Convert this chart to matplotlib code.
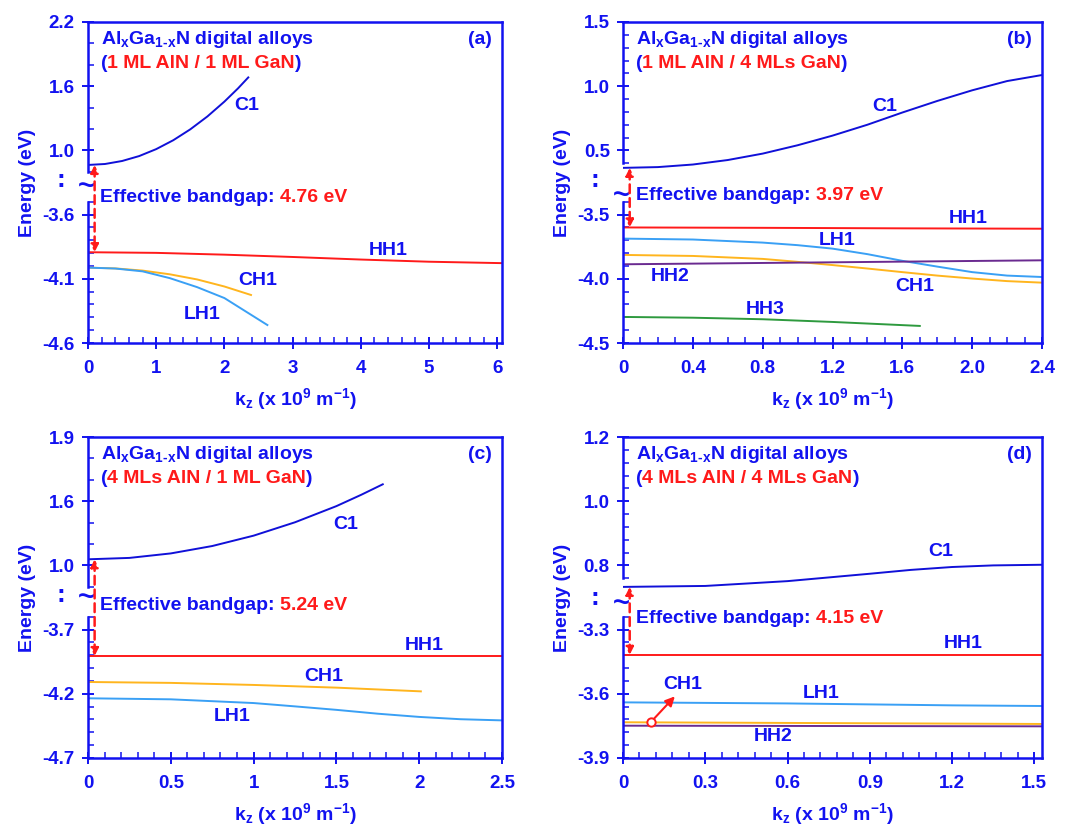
import numpy as np
import matplotlib
matplotlib.use('Agg')
import matplotlib.pyplot as plt
from matplotlib.ticker import MultipleLocator

BLUE = '#1212F0'
RED = '#FF1A1A'
C_C1 = '#1010D8'
C_HH1 = '#FF1A1A'
C_LH1 = '#3AA0F5'
C_CH1 = '#FFB51E'
C_HH2 = '#6A2A90'
C_HH3 = '#2E9A3E'

plt.rcParams['font.family'] = ['Liberation Sans', 'DejaVu Sans']
plt.rcParams['font.weight'] = 'bold'
plt.rcParams['axes.labelweight'] = 'bold'
plt.rcParams['mathtext.fontset'] = 'custom'
plt.rcParams['mathtext.rm'] = 'Liberation Sans:bold'
plt.rcParams['mathtext.bf'] = 'Liberation Sans:bold'
plt.rcParams['mathtext.it'] = 'Liberation Sans:bold'
plt.rcParams['mathtext.default'] = 'bf'

# ---- panel (a): 1 ML AlN / 1 ML GaN
a_k_c1 = [0, 0.25, 0.5, 0.75, 1.0, 1.25, 1.5, 1.75, 2.0, 2.2, 2.35]
a_e_c1 = [0.864, 0.873, 0.901, 0.947, 1.012, 1.095, 1.197, 1.317, 1.456, 1.580, 1.682]
a_k_hh1 = [0, 1, 2, 3, 4, 5, 6.07]
a_e_hh1 = [-3.893, -3.898, -3.912, -3.930, -3.950, -3.967, -3.978]
a_k_ch1 = [0, 0.4, 0.8, 1.2, 1.6, 2.0, 2.39]
a_e_ch1 = [-4.013, -4.019, -4.036, -4.065, -4.105, -4.160, -4.226]
a_k_lh1 = [0, 0.4, 0.8, 1.2, 1.6, 2.0, 2.3, 2.63]
a_e_lh1 = [-4.013, -4.020, -4.042, -4.095, -4.165, -4.250, -4.350, -4.460]

# ---- panel (b): 1 ML AlN / 4 MLs GaN
b_k_c1 = [0, 0.2, 0.4, 0.6, 0.8, 1.0, 1.2, 1.4, 1.6, 1.8, 2.0, 2.2, 2.4]
b_e_c1 = [0.364, 0.370, 0.390, 0.425, 0.475, 0.540, 0.615, 0.700, 0.795, 0.885, 0.968, 1.040, 1.087]
b_k_hh1 = [0, 0.8, 1.6, 2.4]
b_e_hh1 = [-3.600, -3.603, -3.607, -3.610]
b_k_lh1 = [0, 0.4, 0.8, 1.0, 1.2, 1.4, 1.6, 1.8, 2.0, 2.2, 2.4]
b_e_lh1 = [-3.687, -3.694, -3.718, -3.738, -3.765, -3.808, -3.860, -3.905, -3.948, -3.975, -3.986]
b_k_ch1 = [0, 0.4, 0.8, 1.0, 1.2, 1.4, 1.6, 1.8, 2.0, 2.2, 2.4]
b_e_ch1 = [-3.814, -3.822, -3.845, -3.868, -3.893, -3.920, -3.948, -3.975, -3.998, -4.018, -4.030]
b_k_hh2 = [0, 2.4]
b_e_hh2 = [-3.887, -3.856]
b_k_hh3 = [0, 0.4, 0.8, 1.2, 1.7]
b_e_hh3 = [-4.297, -4.303, -4.315, -4.336, -4.367]

# ---- panel (c): 4 MLs AlN / 1 ML GaN
c_k_c1 = [0, 0.25, 0.5, 0.75, 1.0, 1.25, 1.5, 1.65, 1.78]
c_e_c1 = [1.057, 1.070, 1.112, 1.181, 1.278, 1.403, 1.554, 1.630, 1.679]
c_k_hh1 = [0, 2.5]
c_e_hh1 = [-3.906, -3.906]
c_k_ch1 = [0, 0.5, 1.0, 1.5, 2.01]
c_e_ch1 = [-4.108, -4.115, -4.131, -4.152, -4.181]
c_k_lh1 = [0, 0.5, 1.0, 1.25, 1.5, 1.75, 2.0, 2.25, 2.5]
c_e_lh1 = [-4.235, -4.243, -4.272, -4.298, -4.325, -4.355, -4.380, -4.398, -4.407]

# ---- panel (d): 4 MLs AlN / 4 MLs GaN
d_k_c1 = [0, 0.3, 0.6, 0.9, 1.05, 1.2, 1.35, 1.528]
d_e_c1 = [0.733, 0.736, 0.751, 0.774, 0.786, 0.795, 0.800, 0.802]
d_k_hh1 = [0, 1.528]
d_e_hh1 = [-3.418, -3.418]
d_k_lh1 = [0, 0.6, 1.2, 1.528]
d_e_lh1 = [-3.640, -3.645, -3.654, -3.657]
d_k_ch1 = [0, 1.528]
d_e_ch1 = [-3.733, -3.741]
d_k_hh2 = [0, 1.528]
d_e_hh2 = [-3.749, -3.752]

# axis ticks (lower part / upper part of the broken energy axis)
a_low, a_up = [-4.6, -4.1, -3.6], [1.0, 1.6, 2.2]
b_low, b_up = [-4.5, -4.0, -3.5], [0.5, 1.0, 1.5]
c_low, c_up = [-4.7, -4.2, -3.7], [1.0, 1.6, 1.9]
d_low, d_up = [-3.9, -3.6, -3.3], [0.8, 1.0, 1.2]
a_xt = [0, 1, 2, 3, 4, 5, 6]
a_xl = ['0', '1', '2', '3', '4', '5', '6']
b_xt = [0, 0.4, 0.8, 1.2, 1.6, 2.0, 2.4]
b_xl = ['0', '0.4', '0.8', '1.2', '1.6', '2.0', '2.4']
c_xt = [0, 0.5, 1, 1.5, 2, 2.5]
c_xl = ['0', '0.5', '1', '1.5', '2', '2.5']
d_xt = [0, 0.3, 0.6, 0.9, 1.2, 1.5]
d_xl = ['0', '0.3', '0.6', '0.9', '1.2', '1.5']

gaps = ['4.76 eV', '3.97 eV', '5.24 eV', '4.15 eV']
structures = ['1 ML AlN / 1 ML GaN', '1 ML AlN / 4 MLs GaN',
              '4 MLs AlN / 1 ML GaN', '4 MLs AlN / 4 MLs GaN']
tags = ['(a)', '(b)', '(c)', '(d)']

FS = 14


def piecewise(x, xp, fp):
    x = np.asarray(x, dtype=float)
    y = np.interp(x, xp, fp)
    s0 = (fp[1] - fp[0]) / (xp[1] - xp[0])
    s1 = (fp[-1] - fp[-2]) / (xp[-1] - xp[-2])
    y = np.where(x < xp[0], fp[0] + (x - xp[0]) * s0, y)
    y = np.where(x > xp[-1], fp[-1] + (x - xp[-1]) * s1, y)
    return y


def broken_scale(low, up):
    """piecewise linear energy scale with a break between low and up"""
    dl = low[2] - low[1]
    du = up[1] - up[0]
    e = [low[0], low[1], low[2], low[2] + 0.45 * dl,
         up[0] - 0.45 * du, up[0], up[1], up[2]]
    u = [0, 1, 2, 2.45, 2.55, 3, 4, 5]
    return (lambda v: piecewise(v, e, u)), (lambda v: piecewise(v, u, e))


def draw_panel(ax, bands, labels, low, up, n_up, xmax, xt, xl, xminor,
               idx, y_gap, y_tilde, y_dots):
    fwd, inv = broken_scale(low, up)
    ax.set_yscale('function', functions=(fwd, inv))
    ax.set_ylim(low[0], up[2])
    ax.set_xlim(0, xmax)

    # bands
    for k, e, col in bands:
        ax.plot(k, e, color=col, lw=1.4)
    for txt, x, y in labels:
        ax.text(x, y, txt, color=BLUE, fontsize=FS, ha='center', va='center')

    # ticks
    ax.set_yticks(low + up)
    ax.set_yticklabels(['%.1f' % v for v in low + up])
    u_min = [i * 0.2 for i in range(1, 12) if i % 5]
    u_min += [3 - 1.0 / n_up] + [3 + i / n_up for i in range(1, 2 * n_up) if i % n_up]
    ax.set_yticks(inv(np.array(u_min)), minor=True)
    ax.set_xticks(xt)
    ax.set_xticklabels(xl)
    ax.xaxis.set_minor_locator(MultipleLocator(xminor))
    ax.tick_params(which='major', direction='inout', length=9, width=1.4,
                   colors=BLUE, labelsize=13.5, pad=5)
    ax.tick_params(axis='x', which='major', pad=8)
    ax.tick_params(which='minor', direction='in', length=4.5, width=1.1,
                   colors=BLUE)

    # spines, left one broken
    for s in ['top', 'right', 'bottom']:
        ax.spines[s].set_color(BLUE)
        ax.spines[s].set_linewidth(1.8)
    ax.spines['left'].set_visible(False)
    ytr = ax.get_yaxis_transform()
    ax.plot([0, 0], [low[0], float(inv(2.2))], transform=ytr, color=BLUE,
            lw=1.8, clip_on=False, solid_capstyle='projecting')
    ax.plot([0, 0], [float(inv(3 - 1.0 / n_up)), up[2]], transform=ytr,
            color=BLUE, lw=1.8, clip_on=False, solid_capstyle='projecting')
    ax.text(-0.004, y_tilde, '~', transform=ax.transAxes, color=BLUE,
            fontsize=21, ha='center', va='center')
    ax.text(-0.066, y_dots, ':', transform=ax.transAxes, color=BLUE,
            fontsize=19, ha='center', va='center')

    ax.set_xlabel(r'k$_{z}$ (x 10$^{9}$ m$^{-1}$)', color=BLUE, fontsize=FS,
                  labelpad=6)
    ax.set_ylabel('Energy (eV)', color=BLUE, fontsize=FS, labelpad=5)

    # titles
    ax.text(0.031, 0.946, r'Al$_{x}$Ga$_{1\text{-}x}$N digital alloys',
            transform=ax.transAxes, color=BLUE, fontsize=FS, va='center')
    t1 = ax.text(0.031, 0.872, '(', transform=ax.transAxes, color=BLUE,
                 fontsize=FS, va='center')
    t2 = ax.annotate(structures[idx], xy=(1, 0), xycoords=t1, color=RED,
                     fontsize=FS, va='bottom', ha='left')
    ax.annotate(')', xy=(1, 0), xycoords=t2, color=BLUE, fontsize=FS,
                va='bottom', ha='left')
    ax.text(0.976, 0.946, tags[idx], transform=ax.transAxes, color=BLUE,
            fontsize=FS, va='center', ha='right')

    # effective bandgap arrow
    c1_min = bands[0][1][0]
    hh1_max = bands[1][1][0]
    ax.annotate('', xy=(0.016, hh1_max), xytext=(0.016, c1_min), xycoords=ytr,
                arrowprops=dict(arrowstyle='<|-|>', ls=(0, (3.5, 2)), color=RED,
                                lw=1.8, shrinkA=0, shrinkB=0,
                                mutation_scale=11))
    g1 = ax.text(0.030, y_gap, 'Effective bandgap:', transform=ax.transAxes,
                 color=BLUE, fontsize=FS, va='center')
    ax.annotate(gaps[idx], xy=(1, 0), xycoords=g1, xytext=(4, 0),
                textcoords='offset points', color=RED, fontsize=FS,
                va='bottom', ha='left')


fig = plt.figure(figsize=(10.69, 8.26), dpi=100)
W, H = 1069.0, 826.0
ax_a = fig.add_axes([88 / W, 1 - 343 / H, 414 / W, 321 / H])
ax_b = fig.add_axes([623 / W, 1 - 343 / H, 419 / W, 321 / H])
ax_c = fig.add_axes([88 / W, 1 - 758 / H, 414 / W, 321 / H])
ax_d = fig.add_axes([623 / W, 1 - 758 / H, 419 / W, 321 / H])

draw_panel(ax_a,
           [(a_k_c1, a_e_c1, C_C1), (a_k_hh1, a_e_hh1, C_HH1),
            (a_k_ch1, a_e_ch1, C_CH1), (a_k_lh1, a_e_lh1, C_LH1)],
           [('C1', 2.33, 1.415), ('HH1', 4.40, -3.881), ('CH1', 2.49, -4.117),
            ('LH1', 1.67, -4.38)],
           a_low, a_up, 3, 6.07, a_xt, a_xl, 0.2, 0, 0.452, 0.489, 0.508)

draw_panel(ax_b,
           [(b_k_c1, b_e_c1, C_C1), (b_k_hh1, b_e_hh1, C_HH1),
            (b_k_lh1, b_e_lh1, C_LH1), (b_k_ch1, b_e_ch1, C_CH1),
            (b_k_hh2, b_e_hh2, C_HH2), (b_k_hh3, b_e_hh3, C_HH3)],
           [('C1', 1.50, 0.845), ('HH1', 1.98, -3.53), ('LH1', 1.224, -3.705),
            ('HH2', 0.268, -3.98), ('CH1', 1.673, -4.058), ('HH3', 0.813, -4.24)],
           b_low, b_up, 5, 2.4, b_xt, b_xl, 0.1, 1, 0.461, 0.461, 0.508)

draw_panel(ax_c,
           [(c_k_c1, c_e_c1, C_C1), (c_k_hh1, c_e_hh1, C_HH1),
            (c_k_ch1, c_e_ch1, C_CH1), (c_k_lh1, c_e_lh1, C_LH1)],
           [('C1', 1.554, 1.384), ('HH1', 2.03, -3.823), ('CH1', 1.423, -4.069),
            ('LH1', 0.87, -4.38)],
           c_low, c_up, 3, 2.5, c_xt, c_xl, 0.1, 2, 0.474, 0.50, 0.508)

draw_panel(ax_d,
           [(d_k_c1, d_e_c1, C_C1), (d_k_hh1, d_e_hh1, C_HH1),
            (d_k_lh1, d_e_lh1, C_LH1), (d_k_ch1, d_e_ch1, C_CH1),
            (d_k_hh2, d_e_hh2, C_HH2)],
           [('C1', 1.157, 0.842), ('HH1', 1.242, -3.366), ('LH1', 0.724, -3.599),
            ('HH2', 0.548, -3.799), ('CH1', 0.217, -3.557)],
           d_low, d_up, 5, 1.528, d_xt, d_xl, 0.06, 3, 0.435, 0.483, 0.498)

# CH1 pointer in panel (d)
ax_d.plot([0.101], [-3.733], marker='o', ms=6, mfc='white', mec=RED, mew=1.4,
          zorder=5)
ax_d.annotate('', xy=(0.189, -3.612), xytext=(0.101, -3.733),
              arrowprops=dict(arrowstyle='-|>', color=RED, lw=1.5, shrinkA=3,
                              shrinkB=0, mutation_scale=14))

fig.savefig('out.png', dpi=100)
